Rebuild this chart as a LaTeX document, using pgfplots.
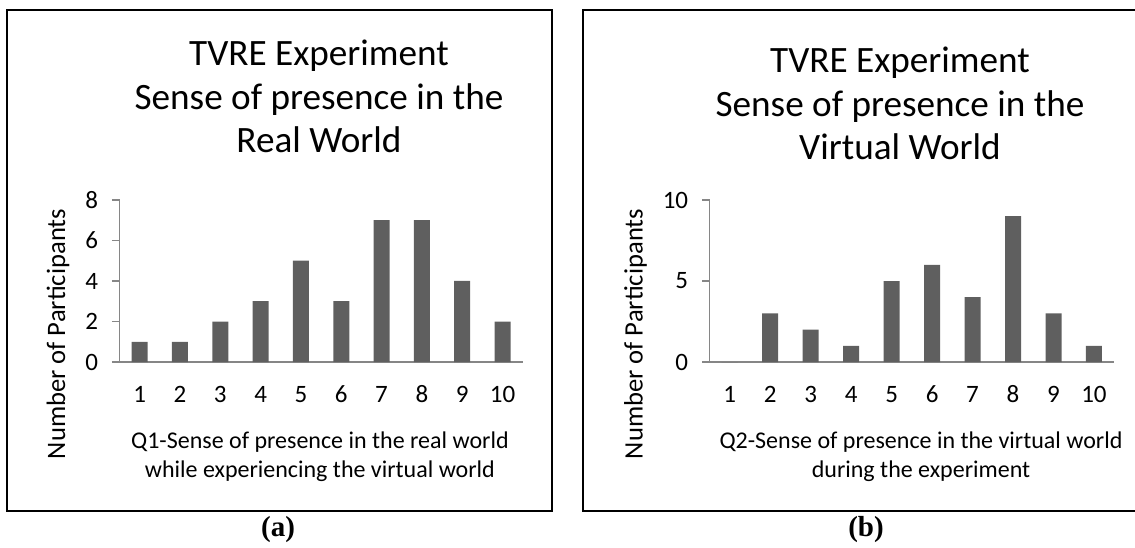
\documentclass[border=0pt]{standalone}
\usepackage{fontspec}
\setmainfont{Carlito}
\newfontfamily\capfont{Liberation Serif}
\usepackage{pgfplots}
\pgfplotsset{compat=1.18}
\definecolor{barcol}{RGB}{95,95,95}
\definecolor{axgray}{RGB}{134,134,134}
\pgfplotsset{
  excel/.style={
    scale only axis,
    height=81pt,
    xmin=0.5, xmax=10.5, ymin=0,
    axis x line*=bottom, axis y line*=left,
    axis line style={draw=axgray, line width=0.75pt, -},
    xtick={1,2,...,10},
    xtick style={draw=none},
    ytick style={draw=axgray, line width=0.75pt},
    tick align=outside,
    major tick length=3.75pt,
    /pgf/number format/assume math mode=true,
    tick label style={font=\fontsize{12.5}{14}\selectfont, inner sep=0pt},
    xticklabel style={anchor=base, yshift=-16.4pt},
    yticklabel style={anchor=east, xshift=-6.75pt},
    title style={font=\fontsize{18.6}{21.75}\selectfont, align=center, anchor=base, inner sep=0pt},
    label style={inner sep=0pt},
    xlabel style={font=\fontsize{12}{14.5}\selectfont, align=center, anchor=base},
    ylabel style={font=\fontsize{13.3}{15}\selectfont, anchor=center},
    ybar, bar width=8pt,
  }
}
\begin{document}
\begin{tikzpicture}
\begin{scope}[x=0.5pt, y=0.5pt]
\draw[line width=1pt] (7.3,537) rectangle (551.7,36);
\draw[line width=1pt] (1140,537) -- (583.3,537) -- (583.3,36) -- (1140,36);
\node[font=\capfont\bfseries\fontsize{14.5}{16}\selectfont] at (278,17) {(a)};
\node[font=\capfont\bfseries\fontsize{14.5}{16}\selectfont] at (866,17) {(b)};
\end{scope}

\begin{axis}[excel,
  at={(59.75pt,92.5pt)}, anchor=south west,
  width=201.6pt, ymax=8, ytick={0,2,4,6,8},
  title={TVRE Experiment\\Sense of presence in the\\Real World},
  title style={at={(axis description cs:0.4948,1.218)}},
  xlabel={Q1-Sense of presence in the real world\\while experiencing the virtual world},
  xlabel style={at={(axis description cs:0.497,-0.710)}},
  ylabel={Number of Participants},
  ylabel style={at={(axis description cs:-0.1525,0.1728)}},
]
\addplot[fill=barcol, draw=none] coordinates {(1,1) (2,1) (3,2) (4,3) (5,5) (6,3) (7,7) (8,7) (9,4) (10,2)};
\end{axis}

\begin{axis}[excel,
  at={(354.75pt,92.5pt)}, anchor=south west,
  width=202.35pt, ymax=10, ytick={0,5,10},
  title={TVRE Experiment\\Sense of presence in the\\Virtual World},
  title style={at={(axis description cs:0.4707,1.173)}},
  xlabel={Q2-Sense of presence in the virtual world\\during the experiment},
  xlabel style={at={(axis description cs:0.5226,-0.710)}},
  ylabel={Number of Participants},
  ylabel style={at={(axis description cs:-0.1829,0.1728)}},
]
\addplot[fill=barcol, draw=none] coordinates {(1,0) (2,3) (3,2) (4,1) (5,5) (6,6) (7,4) (8,9) (9,3) (10,1)};
\end{axis}
\pgfresetboundingbox
\path[use as bounding box] (0,0) rectangle (567.5pt,273.5pt);
\end{tikzpicture}
\end{document}
